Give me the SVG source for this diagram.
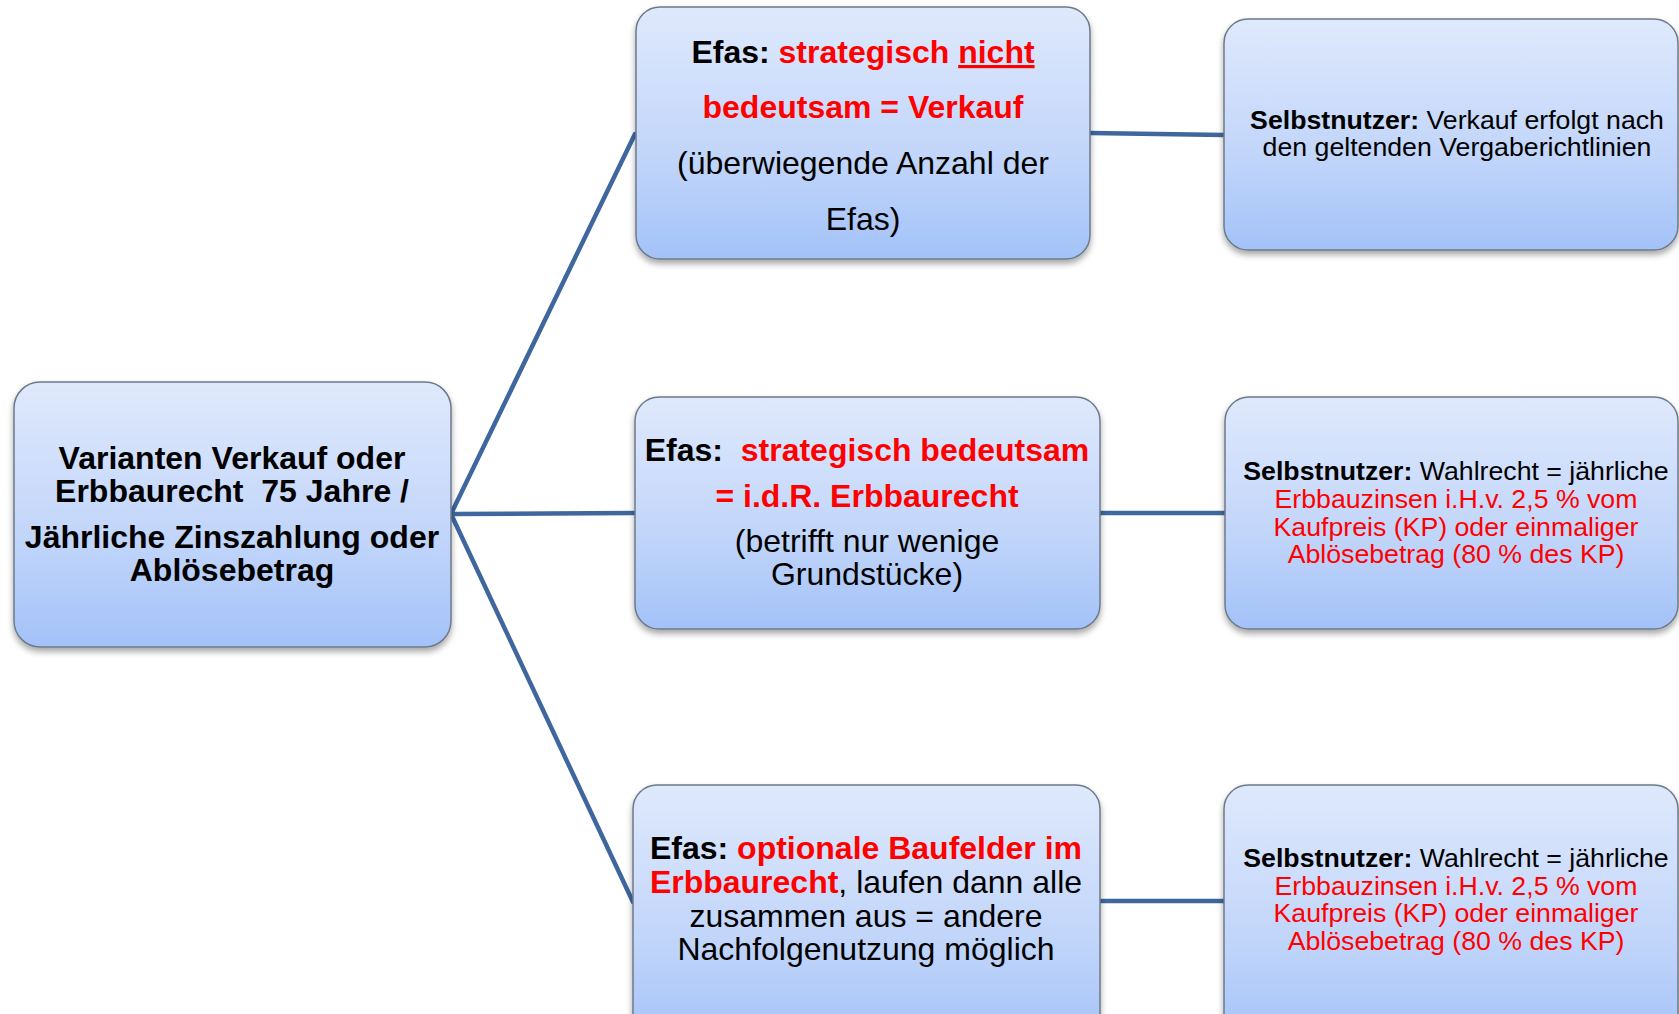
<svg xmlns="http://www.w3.org/2000/svg" width="1679" height="1014" viewBox="0 0 1679 1014">
<defs>
<linearGradient id="g" x1="0" y1="0" x2="0" y2="1">
<stop offset="0" stop-color="#dfe9fc"/>
<stop offset="0.6" stop-color="#c1d5fa"/>
<stop offset="1" stop-color="#a3c2f8"/>
</linearGradient>
<filter id="sh" x="-10%" y="-10%" width="120%" height="125%">
<feDropShadow dx="0" dy="4" stdDeviation="3" flood-color="#000" flood-opacity="0.35"/>
</filter>
</defs>
<style>
.box{fill:url(#g);stroke:#6e7a8a;stroke-width:1.5;filter:url(#sh)}
.t{font-family:"Liberation Sans",Arial,sans-serif;text-anchor:middle;fill:#000}
.b{font-weight:bold}
.r{fill:#ff0000}
.k{fill:#000}
.c{stroke:#3f679e;stroke-width:4.5;fill:none;stroke-linecap:round}
</style>
<rect width="1679" height="1014" fill="#fff"/>
<g id="connectors">
<line class="c" x1="451" y1="514" x2="635" y2="134"/>
<line class="c" x1="451" y1="514" x2="634" y2="513"/>
<line class="c" x1="451" y1="514" x2="633" y2="902"/>
<line class="c" x1="1090" y1="133" x2="1224" y2="135"/>
<line class="c" x1="1100" y1="513" x2="1225" y2="513"/>
<line class="c" x1="1100" y1="901" x2="1224" y2="901"/>
</g>
<g id="root">
<rect class="box" x="14" y="382" width="437" height="265" rx="26"/>
<text class="t b" font-size="32"><tspan x="232" y="469">Varianten Verkauf oder</tspan><tspan x="232" y="502" xml:space="preserve">Erbbaurecht  75 Jahre /</tspan><tspan x="232" y="548">Jährliche Zinszahlung oder</tspan><tspan x="232" y="581">Ablösebetrag</tspan></text>
</g>
<g id="n1">
<rect class="box" x="636" y="7" width="454" height="252" rx="24"/>
<text class="t" font-size="32"><tspan x="863" y="63"><tspan class="b k">Efas: </tspan><tspan class="b r">strategisch </tspan><tspan class="b r" text-decoration="underline">nicht</tspan></tspan><tspan x="863" y="118" class="b r">bedeutsam = Verkauf</tspan><tspan x="863" y="174">(überwiegende Anzahl der</tspan><tspan x="863" y="230">Efas)</tspan></text>
</g>
<g id="n2">
<rect class="box" x="635" y="397" width="465" height="232" rx="24"/>
<text class="t" font-size="32"><tspan x="867" y="461" xml:space="preserve"><tspan class="b k">Efas:  </tspan><tspan class="b r">strategisch bedeutsam</tspan></tspan><tspan x="867" y="507" class="b r">= i.d.R. Erbbaurecht</tspan><tspan x="867" y="552">(betrifft nur wenige</tspan><tspan x="867" y="585">Grundstücke)</tspan></text>
</g>
<g id="n3">
<rect class="box" x="633" y="785" width="467" height="260" rx="24"/>
<text class="t" font-size="32"><tspan x="866" y="859"><tspan class="b k">Efas: </tspan><tspan class="b r">optionale Baufelder im</tspan></tspan><tspan x="866" y="893"><tspan class="b r">Erbbaurecht</tspan>, laufen dann alle</tspan><tspan x="866" y="927">zusammen aus = andere</tspan><tspan x="866" y="960">Nachfolgenutzung möglich</tspan></text>
</g>
<g id="s1">
<rect class="box" x="1224" y="19" width="454" height="231" rx="24"/>
<text class="t" font-size="26.7"><tspan x="1457" y="129"><tspan class="b">Selbstnutzer:</tspan> Verkauf erfolgt nach</tspan><tspan x="1457" y="156">den geltenden Vergaberichtlinien</tspan></text>
</g>
<g id="s2">
<rect class="box" x="1225" y="397" width="453" height="232" rx="24"/>
<text class="t" font-size="26.7"><tspan x="1456" y="480"><tspan class="b">Selbstnutzer:</tspan> Wahlrecht = jährliche</tspan><tspan x="1456" y="508" class="r">Erbbauzinsen i.H.v. 2,5 % vom</tspan><tspan x="1456" y="536" class="r">Kaufpreis (KP) oder einmaliger</tspan><tspan x="1456" y="563" class="r">Ablösebetrag (80 % des KP)</tspan></text>
</g>
<g id="s3">
<rect class="box" x="1224" y="785" width="454" height="260" rx="24"/>
<text class="t" font-size="26.7"><tspan x="1456" y="867"><tspan class="b">Selbstnutzer:</tspan> Wahlrecht = jährliche</tspan><tspan x="1456" y="895" class="r">Erbbauzinsen i.H.v. 2,5 % vom</tspan><tspan x="1456" y="922" class="r">Kaufpreis (KP) oder einmaliger</tspan><tspan x="1456" y="950" class="r">Ablösebetrag (80 % des KP)</tspan></text>
</g>
</svg>
